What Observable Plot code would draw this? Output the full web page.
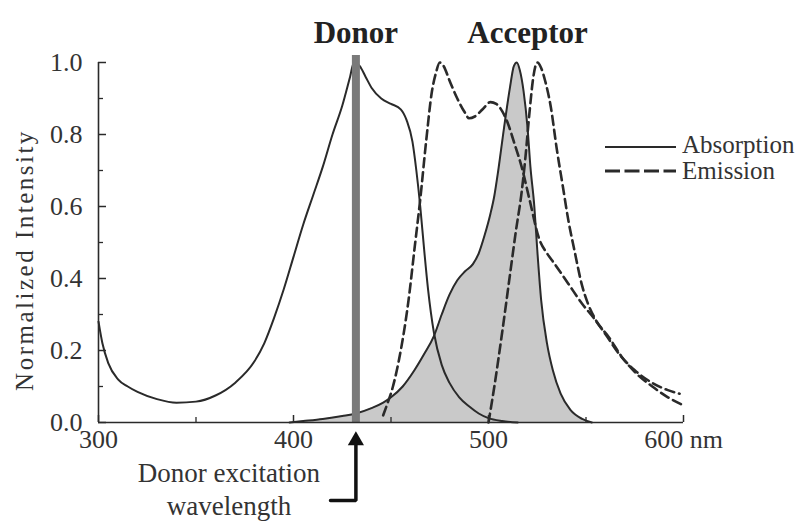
<!DOCTYPE html>
<html><head><meta charset="utf-8">
<script src="https://cdn.jsdelivr.net/npm/d3@7"></script>
<script src="https://cdn.jsdelivr.net/npm/@observablehq/plot@0.6"></script>
<style>
html,body{margin:0;padding:0;background:#fff;}
#wrap{position:relative;width:805px;height:521px;overflow:hidden;background:#fff;}
#legend{position:absolute;left:0;top:0;}
</style></head><body><div id="wrap"></div>
<script>
// ---- data (wavelength nm, normalized intensity) ----
const donorAbsorption = [[300,0.28],[302,0.22],[305,0.165],[310,0.12],[315,0.10],[320,0.085],[330,0.065],[340,0.055],[350,0.058],[360,0.075],[370,0.11],[380,0.17],[385,0.22],[390,0.29],[395,0.37],[400,0.46],[405,0.55],[410,0.63],[415,0.71],[420,0.80],[425,0.88],[429,0.96],[431,1.0],[434,0.99],[437,0.96],[440,0.93],[445,0.90],[450,0.885],[455,0.87],[458,0.84],[461,0.78],[463,0.70],[465,0.60],[467,0.48],[469,0.37],[472,0.25],[476,0.16],[480,0.11],[485,0.07],[490,0.045],[495,0.025],[500,0.012],[507,0.004],[515,0]];
const donorEmission = [[446,0.02],[448,0.05],[451,0.10],[455,0.20],[459,0.34],[462,0.48],[465,0.62],[468,0.78],[471,0.92],[473,0.97],[475,1.0],[477,0.99],[480,0.95],[484,0.90],[488,0.86],[490,0.845],[493,0.85],[497,0.87],[501,0.89],[504,0.885],[507,0.865],[510,0.83],[513,0.78],[517,0.71],[521,0.62],[526,0.51],[530,0.47],[534,0.44],[541,0.385],[548,0.33],[554,0.29],[560,0.245],[567,0.19],[575,0.145],[584,0.11],[592,0.09],[598,0.08]];
const acceptorAbsorption = [[398,0],[405,0.004],[415,0.01],[425,0.018],[432,0.025],[440,0.04],[446,0.055],[450,0.07],[456,0.10],[462,0.145],[467,0.19],[472,0.24],[476,0.30],[480,0.355],[484,0.395],[488,0.42],[492,0.44],[495,0.47],[498,0.52],[501,0.58],[503,0.63],[505,0.70],[508,0.82],[511,0.93],[513,0.99],[514.5,1.0],[516,0.98],[518,0.92],[520,0.82],[521.5,0.71],[523.5,0.60],[525,0.48],[527,0.34],[530,0.22],[533,0.145],[537,0.08],[542,0.035],[548,0.01],[553,0]];
const acceptorEmission = [[500,0],[503,0.10],[507,0.25],[511,0.41],[514,0.53],[517,0.64],[519,0.74],[521,0.86],[523,0.96],[525,1.0],[527,0.985],[529,0.95],[532,0.875],[535,0.76],[538,0.66],[541,0.56],[544,0.48],[548,0.38],[551,0.33],[555,0.285],[562,0.235],[568,0.185],[576,0.135],[584,0.10],[592,0.07],[599,0.05]];
const excitationWavelength = [432];
const titles = [{label: "Donor", x: 432}, {label: "Acceptor", x: 520}];
const xTickLabels = [300, 400, 500, 600];
const xMinorTicks = [350, 450, 550];
const yTickLabels = [0, 0.2, 0.4, 0.6, 0.8, 1.0];
const yMinorTicks = [0.1, 0.3, 0.5, 0.7, 0.9];
const legendItems = ["Absorption", "Emission"];
const yLabel = "Normalized Intensity";
const annotationLines = ["Donor excitation", "wavelength"];

// ---- layout ----
const W = 805, H = 521, mL = 98, mR = 122, mT = 62, mB = 99;
const plotW = W - mL - mR, plotH = H - mT - mB;
const xDomain = [300, 600], yDomain = [0, 1];
const xFromPx = d3.scaleLinear([mL, W - mR], xDomain);
const yFromPx = d3.scaleLinear([H - mB, mT], yDomain);
const ink = "#2a2a2a", textInk = "#333";
const font = "'Liberation Serif', 'Times New Roman', serif";
const exc = excitationWavelength[0];

const toObj = a => a.map(([x, y]) => ({x, y}));
const arrowPath = [
  {x: exc, y: yFromPx(438)},
  {x: exc, y: yFromPx(500)},
  {x: xFromPx(330), y: yFromPx(500)}
];

const chart = Plot.plot({
  width: W, height: H,
  marginLeft: mL, marginRight: mR, marginTop: mT, marginBottom: mB,
  x: {domain: xDomain},
  y: {domain: yDomain},
  style: {fontFamily: font, fontSize: "26px", color: textInk, background: "white", overflow: "visible"},
  marks: [
    Plot.areaY(toObj(acceptorAbsorption), {x: "x", y: "y", fill: "#c9c9c9", curve: "monotone-x"}),
    Plot.line(toObj(donorAbsorption), {x: "x", y: "y", stroke: ink, strokeWidth: 2, curve: "monotone-x"}),
    Plot.line(toObj(acceptorAbsorption), {x: "x", y: "y", stroke: ink, strokeWidth: 2, curve: "monotone-x"}),
    Plot.line(toObj(donorEmission), {x: "x", y: "y", stroke: ink, strokeWidth: 2.6, strokeDasharray: "9,5", curve: "monotone-x"}),
    Plot.line(toObj(acceptorEmission), {x: "x", y: "y", stroke: ink, strokeWidth: 2.6, strokeDasharray: "9,5", curve: "monotone-x"}),
    // excitation bar
    Plot.ruleX(excitationWavelength, {x: d => d, stroke: "#7a7a7a", strokeWidth: 8, insetTop: -7}),
    // axis lines
    Plot.ruleX([xDomain[0]], {x: d => d, stroke: ink, strokeWidth: 1.6}),
    Plot.ruleY([yDomain[0]], {y: d => d, stroke: ink, strokeWidth: 1.6}),
    // inward ticks
    Plot.tickY(yTickLabels, {y: d => d, insetRight: plotW - 8, stroke: ink, strokeWidth: 1.5}),
    Plot.tickY(yMinorTicks, {y: d => d, insetRight: plotW - 5, stroke: ink, strokeWidth: 1.3}),
    Plot.tickX(xTickLabels, {x: d => d, insetTop: plotH - 7, stroke: ink, strokeWidth: 1.5}),
    Plot.tickX(xMinorTicks, {x: d => d, insetTop: plotH - 5, stroke: ink, strokeWidth: 1.3}),
    // axes labels
    Plot.axisX({ticks: xTickLabels, tickSize: 0, tickPadding: 7.5, label: null,
      tickFormat: d => d === 600 ? "600 nm" : String(d), fontSize: 26}),
    Plot.axisY({ticks: yTickLabels, tickSize: 0, tickPadding: 16, label: null,
      tickFormat: d3.format(".1f"), fontSize: 26}),
    // titles
    Plot.text(titles, {x: "x", text: "label", frameAnchor: "top", dy: -20, lineAnchor: "bottom",
      fontSize: 31, fontWeight: "bold", fill: "#222"}),
    // annotation arrow + text
    Plot.line(arrowPath, {x: "x", y: "y", stroke: "#111", strokeWidth: 3.5, strokeLinejoin: "miter"}),
    Plot.dot(excitationWavelength, {x: d => d, y: () => yFromPx(440), symbol: "triangle", r: 6, fill: "#111", stroke: null}),
    Plot.text([annotationLines[0]], {x: () => exc, text: d => d, frameAnchor: "bottom", dx: -127, dy: 59,
      lineAnchor: "bottom", fontSize: 27, fill: textInk}),
    Plot.text([annotationLines[1]], {x: () => exc, text: d => d, frameAnchor: "bottom", dx: -127, dy: 92,
      lineAnchor: "bottom", fontSize: 27, fill: textInk})
  ]
});

const wrap = document.getElementById("wrap");
wrap.appendChild(chart);

// overlay: y-axis title and legend
const leg = d3.select(wrap).append("svg").attr("id", "legend")
  .attr("width", W).attr("height", H).style("pointer-events", "none");
leg.append("text")
  .attr("transform", "translate(33,260) rotate(-90)")
  .attr("text-anchor", "middle")
  .attr("font-family", font).attr("font-size", 25).attr("fill", textInk)
  .style("letter-spacing", "2.5px")
  .text(yLabel);
const legendRows = [
  {label: legendItems[0], y: 147, dash: null, sw: 2},
  {label: legendItems[1], y: 171, dash: "15,4.5", sw: 3}
];
legendRows.forEach((r, i) => {
  leg.append("line").attr("x1", 605).attr("x2", 676).attr("y1", r.y).attr("y2", r.y)
    .attr("stroke", ink).attr("stroke-width", r.sw).attr("stroke-dasharray", r.dash);
  leg.append("text").attr("x", 682).attr("y", r.y + 6 + i * 2)
    .attr("font-family", font).attr("font-size", 25).attr("fill", textInk).text(r.label);
});
</script>
</body></html>
